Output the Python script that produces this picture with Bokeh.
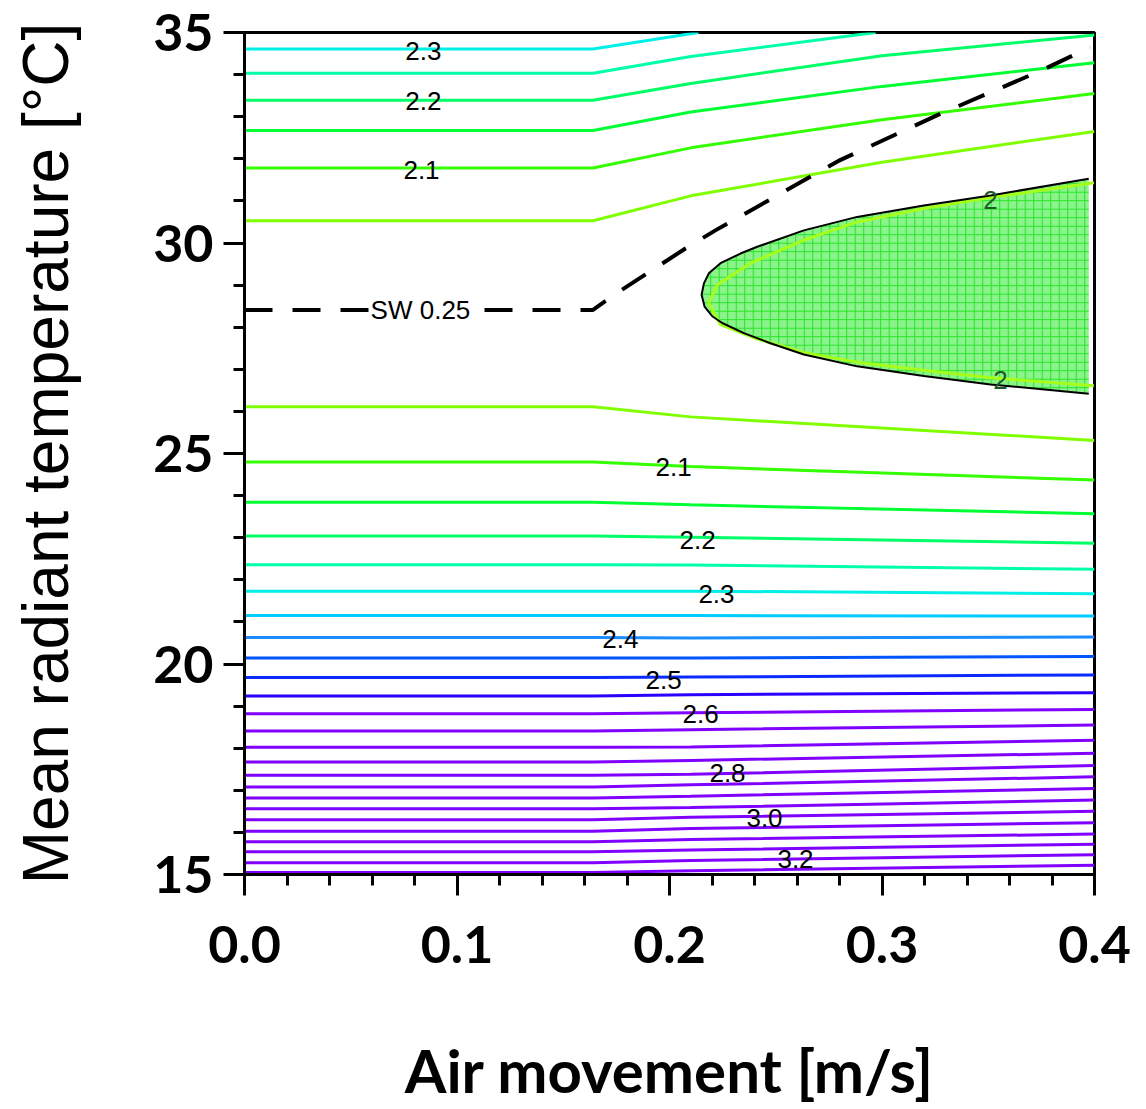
from bokeh.plotting import figure
from bokeh.models import Range1d, SingleIntervalTicker, NumeralTickFormatter, Label, ColumnDataSource
from bokeh.core.properties import value
from bokeh.embed import file_html
from bokeh.resources import INLINE

# ---------------- data ----------------
# Upper contour lines (above the comfort region)
upper_levels = [2.3, 2.25, 2.2, 2.15, 2.1, 2.05]
upper_xs = [
    [0.0, 0.164, 0.2136],
    [0.0, 0.164, 0.21, 0.297],
    [0.0, 0.164, 0.21, 0.3, 0.4],
    [0.0, 0.164, 0.21, 0.3, 0.4],
    [0.0, 0.164, 0.21, 0.3, 0.4],
    [0.0, 0.164, 0.21, 0.3, 0.4],
]
upper_ts = [
    [34.61, 34.61, 35.0],
    [34.03, 34.03, 34.43, 35.0],
    [33.39, 33.39, 33.79, 34.45, 34.94],
    [32.67, 32.67, 33.11, 33.72, 34.28],
    [31.78, 31.78, 32.26, 32.93, 33.55],
    [30.53, 30.53, 31.12, 31.92, 32.65],
]

# Lower contour lines: temperature at air speed knots
lower_x = [0.0, 0.164, 0.21, 0.4]
lower_levels = [2.05, 2.1, 2.15, 2.2, 2.25, 2.3, 2.35, 2.4, 2.45, 2.5, 2.55, 2.6, 2.65,
                2.7, 2.75, 2.8, 2.85, 2.9, 2.95, 3.0, 3.05, 3.1, 3.15, 3.2, 3.25]
lower_t_left = [26.11, 24.80, 23.84, 23.04, 22.36, 21.73, 21.15, 20.63, 20.14, 19.68, 19.24, 18.82,
                18.41, 18.02, 17.67, 17.36, 17.08, 16.82, 16.56, 16.30, 16.03, 15.78, 15.54, 15.28, 15.05]
lower_t_mid = [25.87, 24.69, 23.78, 23.01, 22.35, 21.73, 21.15, 20.62, 20.14, 19.69, 19.27, 18.84,
               18.44, 18.03, 17.71, 17.38, 17.13, 16.86, 16.59, 16.36, 16.09, 15.83, 15.58, 15.33, 15.09]
lower_t_right = [25.31, 24.37, 23.57, 22.87, 22.25, 21.67, 21.14, 20.64, 20.18, 19.74, 19.32, 18.92,
                 18.55, 18.19, 17.88, 17.59, 17.32, 17.04, 16.77, 16.50, 16.23, 15.96, 15.72, 15.47, 15.22]

# Level colours (hue ramp of the original)
level_colors = {
    2.0: "#a6ff1a", 2.05: "#80ff00", 2.1: "#33ff00", 2.15: "#00ff33", 2.2: "#00ff66",
    2.25: "#00ffaa", 2.3: "#00f0e8", 2.35: "#00ccff", 2.4: "#1a8cff", 2.45: "#0055ff",
    2.5: "#0a2aff", 2.55: "#2a00ff",
}
purple = "#7f00ff"

# Region where the index is below 2 (outline)
region_top_x = [0.3973, 0.3511, 0.3197, 0.2883, 0.2632, 0.2413, 0.2334, 0.2240, 0.2185, 0.2162, 0.2151]
region_top_t = [31.525, 31.13, 30.89, 30.62, 30.30, 29.91, 29.75, 29.52, 29.28, 29.04, 28.77]
region_bot_x = [0.2165, 0.2201, 0.2248, 0.2350, 0.2475, 0.2632, 0.2883, 0.3197, 0.3511, 0.3973]
region_bot_t = [28.49, 28.26, 28.10, 27.86, 27.62, 27.35, 27.07, 26.84, 26.64, 26.42]

# Level 2.0 contour line
level2_x = [0.3997, 0.3511, 0.3197, 0.2883, 0.2632, 0.2381, 0.2224, 0.2185, 0.2240, 0.2413,
            0.2632, 0.2883, 0.3197, 0.3511, 0.3997]
level2_t = [31.43, 31.08, 30.82, 30.50, 30.07, 29.52, 29.00, 28.57, 28.06, 27.72,
            27.40, 27.17, 26.98, 26.80, 26.61]

# Dashed "SW 0.25" line
sw_x = [0.0, 0.164, 0.1746, 0.2075, 0.2216, 0.2795, 0.3271, 0.3751, 0.398]
sw_t = [28.41, 28.41, 28.79, 29.87, 30.30, 31.95, 33.06, 34.10, 34.65]

# Contour labels
label_text = ["2.3", "2.2", "2.1", "2.1", "2.2", "2.3", "2.4", "2.5", "2.6", "2.8", "3.0", "3.2"]
label_x = [0.0842, 0.0842, 0.0833, 0.2019, 0.2132, 0.2221, 0.1769, 0.1972, 0.2146, 0.2273, 0.2447, 0.2593]
label_t = [34.57, 33.37, 31.74, 24.67, 22.94, 21.67, 20.60, 19.63, 18.81, 17.41, 16.35, 15.38]
label2_text = ["2", "2"]
label2_x = [0.351, 0.3558]
label2_t = [31.03, 26.75]

x_title = "Air movement [m/s]"
y_title = "Mean radiant temperature [°C]"

# ---------------- figure ----------------
p = figure(width=1146, height=1109,
           x_range=Range1d(0, 0.4), y_range=Range1d(15, 35),
           output_backend="svg", toolbar_location=None,
           min_border_left=244, min_border_right=52, min_border_top=32, min_border_bottom=235)
p.background_fill_color = "white"
p.border_fill_color = "white"
p.xgrid.grid_line_color = None
p.ygrid.grid_line_color = None
p.outline_line_color = "black"
p.outline_line_width = 3

def col(lv):
    return level_colors.get(round(lv, 2), purple)

for lv, xs, ts in zip(upper_levels, upper_xs, upper_ts):
    p.line(xs, ts, line_color=col(lv), line_width=3)

for i, lv in enumerate(lower_levels):
    ts = [lower_t_left[i], lower_t_left[i], lower_t_mid[i], lower_t_right[i]]
    p.line(lower_x, ts, line_color=col(lv), line_width=3)

# comfort region
px = region_top_x + region_bot_x
pt = region_top_t + region_bot_t
p.patch(px, pt, fill_color="#8cf28c", line_color=None,
        hatch_pattern="+", hatch_color="#22e622", hatch_scale=8.5, hatch_weight=1)
p.line(level2_x, level2_t, line_color=col(2.0), line_width=3)
p.line(px, pt, line_color="black", line_width=2)

# SW dashed line
p.line(sw_x, sw_t, line_color="black", line_width=4, line_dash="28 20")
p.add_layout(Label(x=0.0828, y=28.41, text="SW 0.25", text_align="center", text_baseline="middle",
                   text_font="Liberation Sans", text_font_size="26px", text_color="black",
                   background_fill_color="white"))

src = ColumnDataSource(dict(x=label_x, y=label_t, t=label_text))
p.text(x="x", y="y", text="t", source=src, text_font=value("Liberation Sans"),
       text_font_size="26px", text_align="center", text_baseline="middle", text_color="black")
src2 = ColumnDataSource(dict(x=label2_x, y=label2_t, t=label2_text))
p.text(x="x", y="y", text="t", source=src2, text_font=value("Liberation Sans"),
       text_font_size="26px", text_align="center", text_baseline="middle", text_color="#1d5a2a")

# axes
p.xaxis.ticker = SingleIntervalTicker(interval=0.1, num_minor_ticks=5)
p.yaxis.ticker = SingleIntervalTicker(interval=5, num_minor_ticks=5)
p.xaxis.formatter = NumeralTickFormatter(format="0.0")
for ax in (p.xaxis[0], p.yaxis[0]):
    ax.axis_line_width = 3
    ax.axis_line_color = "black"
    ax.major_tick_line_width = 3
    ax.minor_tick_line_width = 3
    ax.major_tick_in = 0
    ax.major_tick_out = 21
    ax.minor_tick_in = 0
    ax.minor_tick_out = 11
    ax.major_label_text_font = "Lato"
    ax.major_label_text_font_style = "bold"
    ax.major_label_text_font_size = "52px"
    ax.major_label_text_color = "black"
    ax.axis_label_text_color = "black"

p.xaxis.axis_label = x_title
p.xaxis.axis_label_text_font = "Lato"
p.xaxis.axis_label_text_font_style = "bold"
p.xaxis.axis_label_text_font_size = "60px"
p.xaxis.major_label_standoff = 30
p.xaxis.axis_label_standoff = 68

p.yaxis.axis_label = y_title
p.yaxis.axis_label_text_font = "Liberation Sans"
p.yaxis.axis_label_text_font_style = "normal"
p.yaxis.axis_label_text_font_size = "64px"
p.yaxis.major_label_standoff = 10
p.yaxis.axis_label_standoff = 68

open("out.html", "w").write(file_html(p, INLINE))
